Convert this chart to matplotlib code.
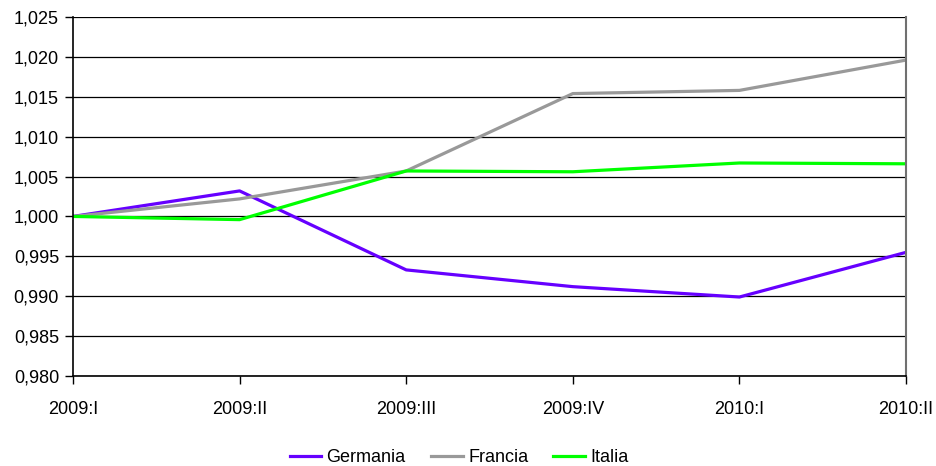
import matplotlib.pyplot as plt
from matplotlib.ticker import FuncFormatter

plt.rcParams['font.family'] = ['Liberation Sans', 'DejaVu Sans']

quarters = ["2009:I", "2009:II", "2009:III", "2009:IV", "2010:I", "2010:II"]
germania = [1.0000, 1.0032, 0.9933, 0.9912, 0.9899, 0.9955]
francia = [1.0000, 1.0022, 1.0057, 1.0154, 1.0158, 1.0196]
italia = [1.0000, 0.9996, 1.0057, 1.0056, 1.0067, 1.0066]

fig = plt.figure(figsize=(9.37, 4.66), dpi=100)
ax = fig.add_axes([73 / 937, 1 - 376 / 466, (906 - 73) / 937, (376 - 17) / 466])

x = list(range(len(quarters)))
ax.plot(x, germania, color="#6600FF", lw=2.3, label="Germania")
ax.plot(x, francia, color="#999999", lw=2.3, label="Francia")
ax.plot(x, italia, color="#00FF00", lw=2.3, label="Italia")

ax.set_xlim(0, len(quarters) - 1)
ax.set_ylim(0.980, 1.025)
ax.set_yticks([0.980 + 0.005 * i for i in range(10)])
ax.yaxis.set_major_formatter(FuncFormatter(lambda v, p: f"{v:.3f}".replace(".", ",")))
ax.set_xticks(x)
ax.set_xticklabels(quarters)

ax.grid(axis="y", color="black", lw=0.9)
ax.set_axisbelow(True)
ax.spines["top"].set_visible(False)
ax.spines["left"].set_linewidth(1.2)
ax.spines["bottom"].set_linewidth(1.2)
ax.spines["right"].set_color("#707070")
ax.spines["right"].set_linewidth(1.5)
ax.tick_params(axis="y", length=6, width=1, labelsize=13, pad=4)
ax.tick_params(axis="x", length=6, width=1, labelsize=13, pad=12)

fig.legend(loc="lower center", bbox_to_anchor=(0.49, -0.035), ncol=3, frameon=False,
           fontsize=13, handlelength=1.75, handletextpad=0.3, columnspacing=1.4)

fig.savefig("out.png", dpi=100)
